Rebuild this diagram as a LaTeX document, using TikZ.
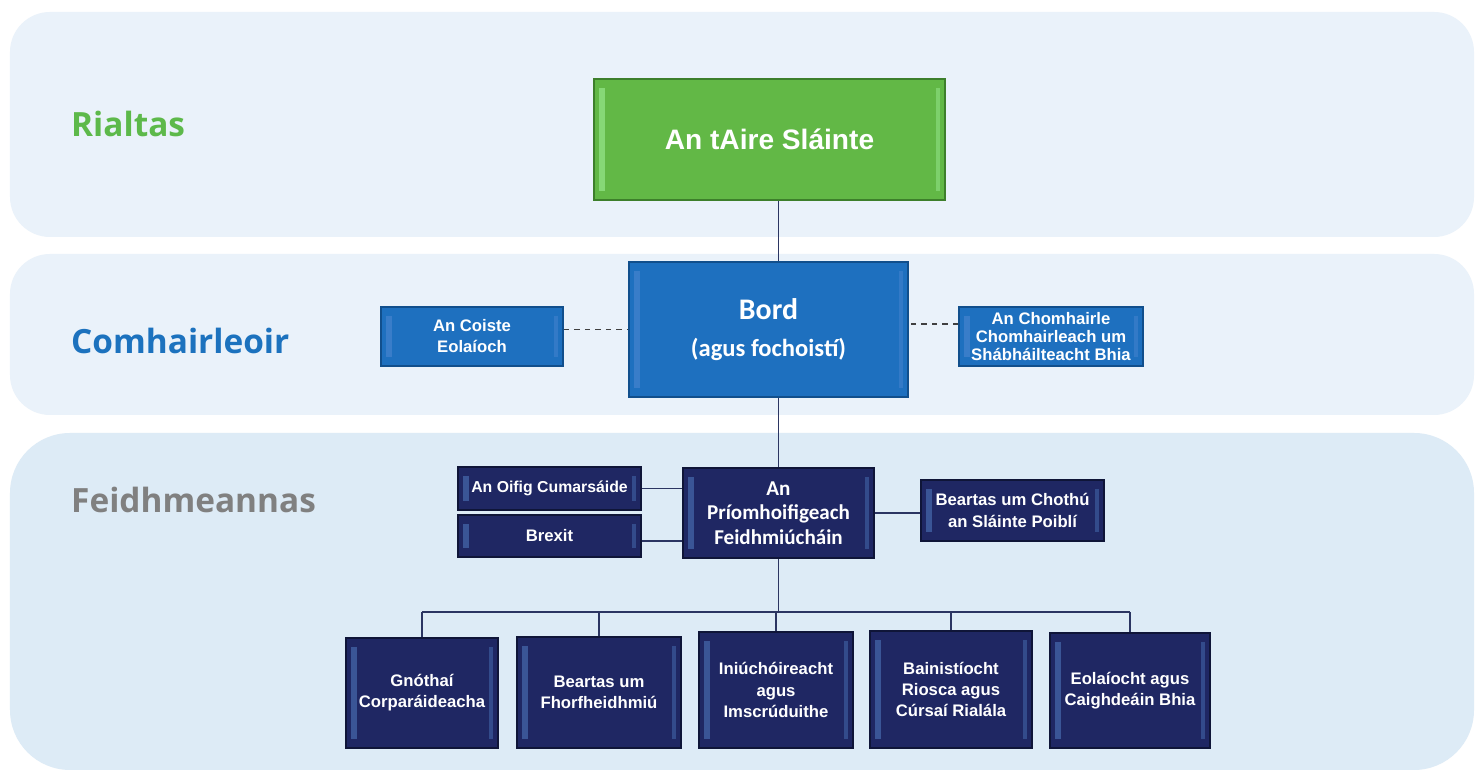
\documentclass[tikz,border=0pt]{standalone}
\usepackage{fontspec}
\setmainfont{Liberation Sans}
\newfontfamily\calfont{Carlito}
\newfontfamily\headfont{Open Sans}
\usetikzlibrary{positioning,calc}

\definecolor{bandlight}{HTML}{EAF2FA}
\definecolor{banddark}{HTML}{DDEBF6}
\definecolor{govgreen}{HTML}{62B846}
\definecolor{govgreendk}{HTML}{3D7F2B}
\definecolor{boardblue}{HTML}{1E70BF}
\definecolor{boardbluedk}{HTML}{114F8C}
\definecolor{execnavy}{HTML}{1F2763}
\definecolor{execnavydk}{HTML}{0F1538}
\definecolor{linkcol}{HTML}{2B3562}
\definecolor{dashcol}{HTML}{404040}
\definecolor{labgreen}{HTML}{5DB94A}
\definecolor{labblue}{HTML}{1C72BE}
\definecolor{labgrey}{HTML}{808080}
\definecolor{shine}{HTML}{5B8FD6}

\tikzset{
  boxbase/.style={draw, line width=0.8pt, text=white, align=center, inner sep=2pt,
    path picture={
      \fill[#1,opacity=0.45] ([xshift=3pt,yshift=5pt]path picture bounding box.south west)
        rectangle ([xshift=6pt,yshift=-5pt]path picture bounding box.north west);
      \fill[#1,opacity=0.35] ([xshift=-3pt,yshift=5pt]path picture bounding box.south east)
        rectangle ([xshift=-5pt,yshift=-5pt]path picture bounding box.north east);
    }},
  minbox/.style={boxbase=green!30!white, fill=govgreen, draw=govgreendk},
  bordbox/.style={boxbase=shine, fill=boardblue, draw=boardbluedk},
  execbox/.style={boxbase=shine, fill=execnavy, draw=execnavydk},
  smalltext/.style={font=\bfseries\fontsize{9.5}{12}\selectfont},
  tierlabel/.style={anchor=base west, font=\headfont\bfseries\fontsize{19}{23}\selectfont},
  link/.style={draw=linkcol, line width=0.8pt},
  dashlink/.style={draw=dashcol, line width=0.8pt, dashed},
}

\begin{document}
\begin{tikzpicture}
  \useasboundingbox[fill=white] (0,0) rectangle (29.52,15.48);
  % tiers
  \fill[bandlight, rounded corners=0.8cm] (0.2,10.74) rectangle (29.48,15.24);
  \fill[bandlight, rounded corners=0.8cm] (0.2,7.18) rectangle (29.48,10.4);
  \fill[banddark, rounded corners=1.2cm] (0.2,0.08) rectangle (29.48,6.82);
  \node[tierlabel, text=labgreen] (rialtas) at (1.3,12.74) {Rialtas};
  \node[tierlabel, text=labblue] (comhairleoir) at (1.3,8.4) {Comhairleoir};
  \node[tierlabel, text=labgrey] (feidhm) at (1.3,5.22) {Feidhmeannas};

  % government and board
  \node[minbox, minimum width=7.02cm, minimum height=2.42cm,
        font=\bfseries\fontsize{16}{19}\selectfont] (minister) at (15.39,12.69) {An tAire Sláinte};
  \node[bordbox, minimum width=5.58cm, minimum height=2.7cm, font=\calfont\bfseries] (bord) at (15.37,8.89)
    {{\fontsize{17}{20}\selectfont Bord}\\[9pt]{\fontsize{14}{17}\selectfont (agus fochoistí)}};
  \node[bordbox, smalltext, minimum width=3.64cm, minimum height=1.18cm] (coiste) at (9.44,8.75)
    {An Coiste\\Eolaíoch};
  \node[bordbox, smalltext, font=\bfseries\fontsize{9.5}{10.5}\selectfont, minimum width=3.68cm,
        minimum height=1.18cm] (chomhairle) at (21.02,8.75)
    {An Chomhairle\\Chomhairleach um\\Shábháilteacht Bhia};

  % executive
  \node[execbox, minimum width=3.82cm, minimum height=1.8cm,
        font=\calfont\bfseries\fontsize{12}{14}\selectfont] (ceo) at (15.57,5.22)
    {An\\Príomhoifigeach\\Feidhmiúcháin};
  \node[execbox, font=\bfseries\fontsize{9}{12}\selectfont, minimum width=3.66cm,
        minimum height=0.86cm] (oifig) at (10.99,5.71) {An Oifig Cumarsáide};
  \node[execbox, smalltext, minimum width=3.66cm, minimum height=0.84cm] (brexit) at (10.99,4.76) {Brexit};
  \node[execbox, smalltext, minimum width=3.66cm, minimum height=1.22cm] (chothu) at (20.25,5.27)
    {Beartas um Chothú\\an Sláinte Poiblí};

  \node[execbox, smalltext, minimum width=3.04cm, minimum height=2.2cm] (b1) at (8.44,1.62)
    {Gnóthaí\\Corparáideacha};
  \node[execbox, smalltext, minimum width=3.28cm, minimum height=2.22cm] (b2) at (11.98,1.63)
    {Beartas um\\Fhorfheidhmiú};
  \node[execbox, smalltext, minimum width=3.08cm, minimum height=2.32cm] (b3) at (15.52,1.68)
    {Iniúchóireacht\\agus\\Imscrúduithe};
  \node[execbox, smalltext, minimum width=3.24cm, minimum height=2.34cm] (b4) at (19.02,1.69)
    {Bainistíocht\\Riosca agus\\Cúrsaí Rialála};
  \node[execbox, smalltext, minimum width=3.2cm, minimum height=2.3cm] (b5) at (22.6,1.67)
    {Eolaíocht agus\\Caighdeáin Bhia};

  % connectors
  \draw[link] (ceo.north |- minister.south) -- (ceo.north |- bord.north);
  \draw[link] (ceo.north |- bord.south) -- (ceo.north);
  \draw[dashlink] (coiste.east |- bord.west) -- (bord.west);
  \draw[dashlink] ([yshift=0.25cm]chomhairle.west) -- ([yshift=0.25cm]chomhairle.west -| bord.east);
  \draw[link] (oifig.east) -- (oifig.east -| ceo.west);
  \draw[link] ([yshift=-0.1cm]brexit.east) -- ([yshift=-0.1cm]brexit.east -| ceo.west);
  \draw[link] (ceo.east) -- (ceo.east -| chothu.west);
  \coordinate (bus) at (15.57,3.24);
  \draw[link] (ceo.south) -- (bus);
  \draw[link] (bus -| b1.north) -- (bus -| b5.north);
  \foreach \b in {b1,b2,b3,b4,b5}
    \draw[link] (bus -| \b.north) -- (\b.north);
\end{tikzpicture}
\end{document}
